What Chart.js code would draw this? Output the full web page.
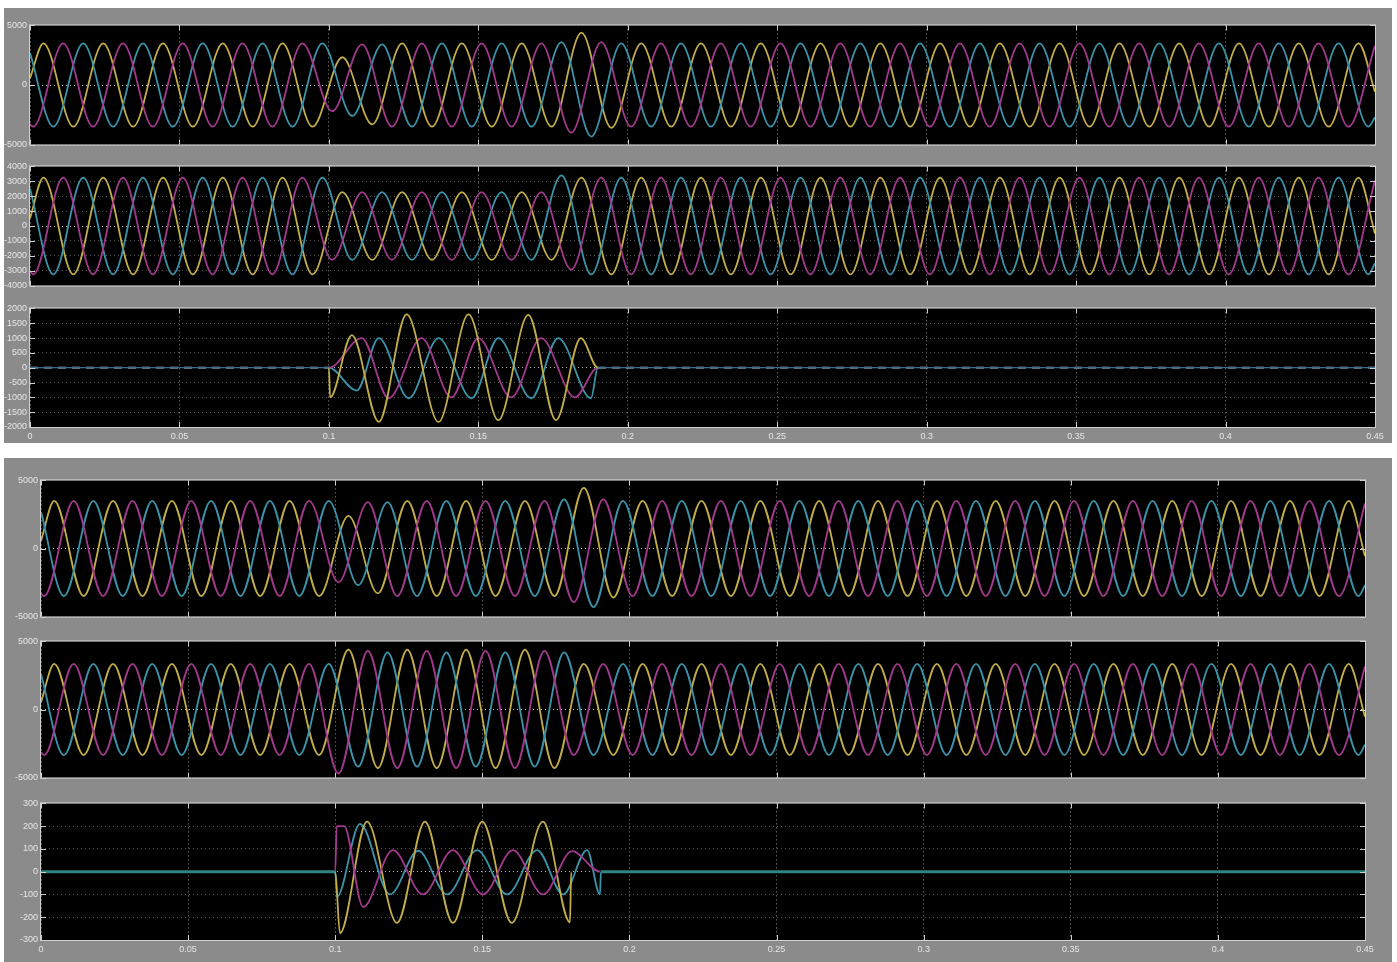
<!DOCTYPE html>
<html>
<head>
<meta charset="utf-8">
<title>Fault waveforms</title>
<script src="https://cdn.jsdelivr.net/npm/chart.js@4.4.1/dist/chart.umd.min.js"></script>
<style>
  body { margin: 0; background: #fff; width: 1397px; height: 962px; position: relative; overflow: hidden; }
  .group { position: absolute; background: #8b8b8b; }
  canvas { position: absolute; left: 0; }
</style>
</head>
<body>
<div class="group" style="left:4px;top:8px;width:1388px;height:435px"></div>
<div class="group" style="left:4px;top:458px;width:1388px;height:504px"></div>
<canvas id="voltA" width="1391" height="136" style="top:17px"></canvas>
<canvas id="currA" width="1391" height="136" style="top:158px"></canvas>
<canvas id="faultA" width="1391" height="143" style="top:300px"></canvas>
<canvas id="voltB" width="1381" height="153" style="top:472px"></canvas>
<canvas id="currB" width="1381" height="153" style="top:633px"></canvas>
<canvas id="faultB" width="1381" height="161" style="top:795px"></canvas>
<script>
// time of each half-cycle peak, ms (50 Hz), one list per phase
const tYellow = [0, 4.5, 14.5, 24.5, 34.5, 44.5, 54.5, 64.5, 74.5, 84.5, 94.5,
  104.5, 114.5, 124.5, 134.5, 144.5, 154.5, 164.5, 174.5, 184.5, 194.5,
  204.5, 214.5, 224.5, 234.5, 244.5, 254.5, 264.5, 274.5, 284.5, 294.5,
  304.5, 314.5, 324.5, 334.5, 344.5, 354.5, 364.5, 374.5, 384.5, 394.5,
  404.5, 414.5, 424.5, 434.5, 444.5, 450];
const tCyan = [0, 7.8, 17.8, 27.8, 37.8, 47.8, 57.8, 67.8, 77.8, 87.8, 97.8,
  107.8, 117.8, 127.8, 137.8, 147.8, 157.8, 167.8, 177.8, 187.8, 197.8,
  207.8, 217.8, 227.8, 237.8, 247.8, 257.8, 267.8, 277.8, 287.8, 297.8,
  307.8, 317.8, 327.8, 337.8, 347.8, 357.8, 367.8, 377.8, 387.8, 397.8,
  407.8, 417.8, 427.8, 437.8, 447.8, 450];
const tMagenta = [0, 1.1, 11.1, 21.1, 31.1, 41.1, 51.1, 61.1, 71.1, 81.1, 91.1,
  101.1, 111.1, 121.1, 131.1, 141.1, 151.1, 161.1, 171.1, 181.1, 191.1,
  201.1, 211.1, 221.1, 231.1, 241.1, 251.1, 261.1, 271.1, 281.1, 291.1,
  301.1, 311.1, 321.1, 331.1, 341.1, 351.1, 361.1, 371.1, 381.1, 391.1,
  401.1, 411.1, 421.1, 431.1, 441.1, 450];

const xTicks = [0, 50, 100, 150, 200, 250, 300, 350, 400, 450];

// upper figure, panel 1
const voltAYellow = [560,
  3500, -3500, 3500, -3500, 3500, -3500, 3500, -3500, 3500, -3500,
  2330, -3300, 3500, -3500, 3500, -3500, 3500, -3500, 4400, -3600,
  3500, -3500, 3500, -3500, 3500, -3500, 3500, -3500, 3500, -3500,
  3500, -3500, 3500, -3500, 3500, -3500, 3500, -3500, 3500, -3500,
  3500, -3500, 3500, -3500, 3500,
  -560];
const voltACyan = [2700,
  -3500, 3500, -3500, 3500, -3500, 3500, -3500, 3500, -3500, 3500,
  -2600, 3400, -3500, 3500, -3500, 3500, -3500, 3600, -4330, 3500,
  -3500, 3500, -3500, 3500, -3500, 3500, -3500, 3500, -3500, 3500,
  -3500, 3500, -3500, 3500, -3500, 3500, -3500, 3500, -3500, 3500,
  -3500, 3500, -3500, 3500, -3500,
  -2700];
const voltAMagenta = [-3300,
  -3500, 3500, -3500, 3500, -3500, 3500, -3500, 3500, -3500, 3500,
  -2200, 3400, -3500, 3500, -3500, 3500, -3500, 3500, -4000, 3600,
  -3500, 3500, -3500, 3500, -3500, 3500, -3500, 3500, -3500, 3500,
  -3500, 3500, -3500, 3500, -3500, 3500, -3500, 3500, -3500, 3500,
  -3500, 3500, -3500, 3500, -3500,
  3300];

// upper figure, panel 2
const currAYellow = [520,
  3250, -3250, 3250, -3250, 3250, -3250, 3250, -3250, 3250, -3250,
  2270, -2270, 2270, -2270, 2270, -2270, 2270, -2270, 3250, -3250,
  3250, -3250, 3250, -3250, 3250, -3250, 3250, -3250, 3250, -3250,
  3250, -3250, 3250, -3250, 3250, -3250, 3250, -3250, 3250, -3250,
  3250, -3250, 3250, -3250, 3250,
  -520];
const currACyan = [2500,
  -3250, 3250, -3250, 3250, -3250, 3250, -3250, 3250, -3250, 3250,
  -2270, 2270, -2270, 2270, -2270, 2270, -2270, 3400, -3250, 3250,
  -3250, 3250, -3250, 3250, -3250, 3250, -3250, 3250, -3250, 3250,
  -3250, 3250, -3250, 3250, -3250, 3250, -3250, 3250, -3250, 3250,
  -3250, 3250, -3250, 3250, -3250,
  -2500];
const currAMagenta = [-3050,
  -3250, 3250, -3250, 3250, -3250, 3250, -3250, 3250, -3250, 3250,
  -2270, 2270, -2270, 2270, -2270, 2270, -2270, 2270, -2930, 3250,
  -3250, 3250, -3250, 3250, -3250, 3250, -3250, 3250, -3250, 3250,
  -3250, 3250, -3250, 3250, -3250, 3250, -3250, 3250, -3250, 3250,
  -3250, 3250, -3250, 3250, -3250,
  3050];

// upper figure, panel 3: [ms, value]
const faultAYellow = [[0, 0], [100, 0], [100.4, -1000], [107.7, 1100], [116.7, -1830],
  [126, 1800], [136.7, -1830], [146.7, 1800], [156.7, -1770], [166.7, 1780],
  [176, -1770], [184.3, 1000], [190, 0], [450, 0]];
const faultACyan = [[0, 0], [100, 0], [109.3, -770], [116.7, 1000], [126.7, -1030],
  [136.7, 1000], [147.7, -1030], [156.7, 1000], [167.7, -1030], [176.7, 1000],
  [187.7, -1030], [190, 0], [450, 0]];
const faultAMagenta = [[0, 0], [100, 0], [111, 1000], [120, -1030], [131, 1000],
  [141, -1000], [150, 1000], [161, -1000], [171, 1000], [182.3, -1000],
  [190, 0], [450, 0]];

// lower figure, panel 1
const voltBYellow = [560,
  3500, -3500, 3500, -3500, 3500, -3500, 3500, -3500, 3500, -3500,
  2400, -3300, 3500, -3500, 3500, -3500, 3500, -3500, 4450, -3600,
  3500, -3500, 3500, -3500, 3500, -3500, 3500, -3500, 3500, -3500,
  3500, -3500, 3500, -3500, 3500, -3500, 3500, -3500, 3500, -3500,
  3500, -3500, 3500, -3500, 3500,
  -560];
const voltBCyan = [2700,
  -3500, 3500, -3500, 3500, -3500, 3500, -3500, 3500, -3500, 3500,
  -2700, 3400, -3500, 3500, -3500, 3500, -3500, 3600, -4300, 3500,
  -3500, 3500, -3500, 3500, -3500, 3500, -3500, 3500, -3500, 3500,
  -3500, 3500, -3500, 3500, -3500, 3500, -3500, 3500, -3500, 3500,
  -3500, 3500, -3500, 3500, -3500,
  -2700];
const voltBMagenta = [-3300,
  -3500, 3500, -3500, 3500, -3500, 3500, -3500, 3500, -3500, 3500,
  -2480, 3400, -3500, 3500, -3500, 3500, -3500, 3500, -3940, 3600,
  -3500, 3500, -3500, 3500, -3500, 3500, -3500, 3500, -3500, 3500,
  -3500, 3500, -3500, 3500, -3500, 3500, -3500, 3500, -3500, 3500,
  -3500, 3500, -3500, 3500, -3500,
  3300];

// lower figure, panel 2
const currBYellow = [540,
  3350, -3350, 3350, -3350, 3350, -3350, 3350, -3350, 3350, -3350,
  4400, -4300, 4400, -4300, 4400, -4300, 4400, -4300, 3350, -3350,
  3350, -3350, 3350, -3350, 3350, -3350, 3350, -3350, 3350, -3350,
  3350, -3350, 3350, -3350, 3350, -3350, 3350, -3350, 3350, -3350,
  3350, -3350, 3350, -3350, 3350,
  -540];
const currBCyan = [2580,
  -3350, 3350, -3350, 3350, -3350, 3350, -3350, 3350, -3350, 3350,
  -4200, 4200, -4200, 4200, -4200, 4200, -4200, 4200, -3350, 3350,
  -3350, 3350, -3350, 3350, -3350, 3350, -3350, 3350, -3350, 3350,
  -3350, 3350, -3350, 3350, -3350, 3350, -3350, 3350, -3350, 3350,
  -3350, 3350, -3350, 3350, -3350,
  -2580];
const currBMagenta = [-3150,
  -3350, 3350, -3350, 3350, -3350, 3350, -3350, 3350, -3350, 3350,
  -4700, 4300, -4300, 4300, -4300, 4300, -4300, 4300, -3350, 3350,
  -3350, 3350, -3350, 3350, -3350, 3350, -3350, 3350, -3350, 3350,
  -3350, 3350, -3350, 3350, -3350, 3350, -3350, 3350, -3350, 3350,
  -3350, 3350, -3350, 3350, -3350,
  3150];

// lower figure, panel 3: [ms, value]
const faultBYellow = [[0, 0], [100, 0], [101.6, -270], [110.8, 220], [121, -225],
  [130.5, 220], [140, -225], [150, 220], [160, -225], [170.6, 220],
  [179.8, -222], [180.2, 0], [450, 0]];
const faultBCyan = [[0, 0], [100, 0], [100.6, -110], [108.4, 210], [118.6, -100],
  [128.2, 92], [138, -100], [148.2, 95], [158.4, -100], [168.6, 95],
  [177.5, -100], [185.6, 95], [190, -100], [190.3, 0], [450, 0]];
const faultBMagenta = [[0, 0], [100, 0], [100.5, 200], [103, 200], [109.5, -155],
  [119.6, 95], [129.8, -100], [140, 95], [150.2, -100], [160.4, 95],
  [170.6, -100], [180.5, 90], [190, 0], [450, 0]];

const YEL = '#c2ad48';
const MAG = '#a1398c';
const CYN = '#3b93aa';
const HIDDEN = { color: 'rgba(0,0,0,0)', dash: [], width: 1 };

function onGrid(times, values) {
  return times.map((t, i) => ({ x: t, y: values[i] }));
}
function fromPairs(pairs) {
  return pairs.map(([t, v]) => ({ x: t, y: v }));
}

// black plot area, light frame and short inward ticks like a scope window
const scopeFrame = {
  id: 'scopeFrame',
  beforeDraw(chart) {
    const { ctx, chartArea: a } = chart;
    ctx.save();
    ctx.fillStyle = '#000';
    ctx.fillRect(a.left, a.top, a.right - a.left, a.bottom - a.top);
    ctx.restore();
  },
  afterDraw(chart) {
    const { ctx, chartArea: a, scales } = chart;
    ctx.save();
    ctx.strokeStyle = '#cfcfcf';
    ctx.lineWidth = 1;
    ctx.strokeRect(a.left - 0.5, a.top - 0.5, a.right - a.left + 1, a.bottom - a.top + 1);
    ctx.beginPath();
    scales.x.ticks.forEach((t, i) => {
      const x = Math.round(scales.x.getPixelForTick(i)) + 0.5;
      ctx.moveTo(x, a.top); ctx.lineTo(x, a.top + 5);
      ctx.moveTo(x, a.bottom); ctx.lineTo(x, a.bottom - 5);
    });
    scales.y.ticks.forEach((t, i) => {
      const y = Math.round(scales.y.getPixelForTick(i)) + 0.5;
      ctx.moveTo(a.left, y); ctx.lineTo(a.left + 5, y);
      ctx.moveTo(a.right, y); ctx.lineTo(a.right - 5, y);
    });
    ctx.stroke();
    ctx.restore();
  },
};

const flat = (ctx) => ctx.p0.parsed.y === 0 && ctx.p1.parsed.y === 0;

function series(data, color, zero) {
  const ds = {
    data,
    borderColor: color,
    borderWidth: 1.8,
    pointRadius: 0,
    fill: false,
    cubicInterpolationMode: 'monotone',
  };
  if (zero) {
    // the flat stretches at zero get their own look
    ds.segment = {
      borderColor: (ctx) => (flat(ctx) ? zero.color : undefined),
      borderDash: (ctx) => (flat(ctx) ? zero.dash : undefined),
      borderWidth: (ctx) => (flat(ctx) ? zero.width : undefined),
    };
  }
  return ds;
}

function drawPanel(id, cfg) {
  const labelFont = { family: 'Liberation Sans, Arial, sans-serif', size: 9 };
  // eslint-disable-next-line no-new
  new Chart(document.getElementById(id), {
    type: 'line',
    data: { datasets: cfg.datasets },
    options: {
      responsive: false,
      animation: false,
      events: [],
      layout: {
        autoPadding: false,
        padding: { left: 0, top: 8, right: 16, bottom: cfg.xLabels ? 2 : 8 },
      },
      plugins: { legend: { display: false }, tooltip: { enabled: false } },
      scales: {
        x: {
          type: 'linear',
          min: 0,
          max: 450,
          afterBuildTicks: (s) => { s.ticks = xTicks.map((v) => ({ value: v })); },
          afterFit: (s) => { s.height = cfg.xLabels ? 14 : 0; },
          ticks: {
            display: cfg.xLabels,
            padding: 4,
            color: '#e6e6e6',
            font: labelFont,
            maxRotation: 0,
            autoSkip: false,
            callback: (v) => (v === 0 ? '0' : String(v / 1000)),
          },
          grid: { color: '#8e8e8e', lineWidth: 1, drawTicks: false },
          border: { display: false, dash: [1, 3] },
        },
        y: {
          min: cfg.yTicks[cfg.yTicks.length - 1],
          max: cfg.yTicks[0],
          afterBuildTicks: (s) => { s.ticks = cfg.yTicks.map((v) => ({ value: v })); },
          afterFit: (s) => { s.width = cfg.yw; },
          ticks: {
            padding: 3,
            color: '#e6e6e6',
            font: labelFont,
            autoSkip: false,
            callback: (v) => String(v),
          },
          grid: {
            color: (c) => (c.tick && c.tick.value === 0 ? '#bdbdbd' : '#555555'),
            lineWidth: 1,
            drawTicks: false,
          },
          border: { display: false, dash: [1, 3] },
        },
      },
    },
    plugins: [scopeFrame],
  });
}

const ticksVolt = [5000, 0, -5000];
const ticksCurrA = [4000, 3000, 2000, 1000, 0, -1000, -2000, -3000, -4000];
const ticksFaultA = [2000, 1500, 1000, 500, 0, -500, -1000, -1500, -2000];
const ticksFaultB = [300, 200, 100, 0, -100, -200, -300];

drawPanel('voltA', {
  yw: 30, yTicks: ticksVolt, xLabels: false,
  datasets: [
    series(onGrid(tMagenta, voltAMagenta), MAG),
    series(onGrid(tCyan, voltACyan), CYN),
    series(onGrid(tYellow, voltAYellow), YEL),
  ],
});
drawPanel('currA', {
  yw: 30, yTicks: ticksCurrA, xLabels: false,
  datasets: [
    series(onGrid(tMagenta, currAMagenta), MAG),
    series(onGrid(tCyan, currACyan), CYN),
    series(onGrid(tYellow, currAYellow), YEL),
  ],
});
drawPanel('faultA', {
  yw: 30, yTicks: ticksFaultA, xLabels: true,
  datasets: [
    series(fromPairs(faultAYellow), YEL, HIDDEN),
    series(fromPairs(faultAMagenta), MAG, { color: '#3d6c8c', dash: [], width: 1.2 }),
    series(fromPairs(faultACyan), CYN, { color: '#cddbe2', dash: [8, 6], width: 1.8 }),
  ],
});
drawPanel('voltB', {
  yw: 41, yTicks: ticksVolt, xLabels: false,
  datasets: [
    series(onGrid(tMagenta, voltBMagenta), MAG),
    series(onGrid(tCyan, voltBCyan), CYN),
    series(onGrid(tYellow, voltBYellow), YEL),
  ],
});
drawPanel('currB', {
  yw: 41, yTicks: ticksVolt, xLabels: false,
  datasets: [
    series(onGrid(tMagenta, currBMagenta), MAG),
    series(onGrid(tCyan, currBCyan), CYN),
    series(onGrid(tYellow, currBYellow), YEL),
  ],
});
drawPanel('faultB', {
  yw: 41, yTicks: ticksFaultB, xLabels: true,
  datasets: [
    series(fromPairs(faultBMagenta), MAG, HIDDEN),
    series(fromPairs(faultBYellow), YEL, HIDDEN),
    series(fromPairs(faultBCyan), CYN, { color: '#2d8682', dash: [], width: 3 }),
  ],
});
</script>
</body>
</html>
